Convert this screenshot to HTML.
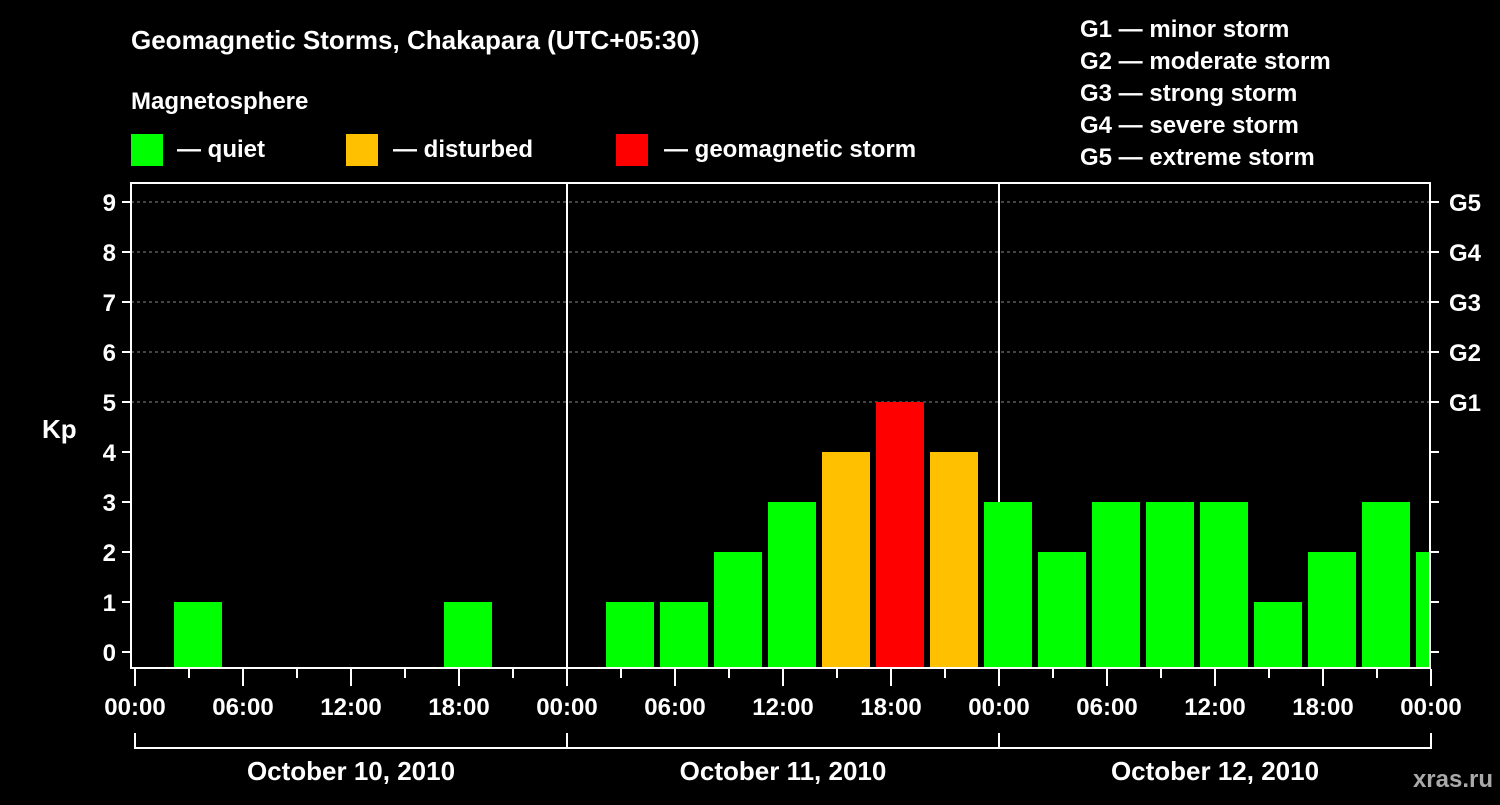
<!DOCTYPE html>
<html><head><meta charset="utf-8"><style>
body{margin:0;background:#000;}
svg text{font-family:"Liberation Sans",Arial,sans-serif;font-weight:bold;fill:#fff;}
</style></head><body>
<svg width="1500" height="800" viewBox="0 0 1500 800">
<rect width="1500" height="800" fill="#000"/>
<text x="131" y="49" font-size="26">Geomagnetic Storms, Chakapara (UTC+05:30)</text>
<text x="131" y="109" font-size="24">Magnetosphere</text>
<rect x="131" y="134" width="32" height="32" fill="#00ff00"/>
<text x="177" y="157" font-size="24">— quiet</text>
<rect x="346" y="134" width="32" height="32" fill="#ffc000"/>
<text x="393" y="157" font-size="24">— disturbed</text>
<rect x="616" y="134" width="32" height="32" fill="#ff0000"/>
<text x="664" y="157" font-size="24">— geomagnetic storm</text>
<g font-size="24">
<text x="1080" y="37">G1 — minor storm</text>
<text x="1080" y="69">G2 — moderate storm</text>
<text x="1080" y="101">G3 — strong storm</text>
<text x="1080" y="133">G4 — severe storm</text>
<text x="1080" y="165">G5 — extreme storm</text>
</g>
<text x="42" y="438" font-size="26">Kp</text>
<g id="grid"></g>
<g id="bars" clip-path="url(#clip)"></g>
<defs><clipPath id="clip"><rect x="131" y="183" width="1299" height="485"/></clipPath></defs>
<g id="axes"></g>
<text x="1493" y="787" font-size="24" text-anchor="end" fill="#bbb" style="fill:#aaa">xras.ru</text>
</svg>
<script>
const kpValues=[0,1,0,0,0,0,1,0,0,1,1,2,3,4,5,4,3,2,3,3,3,1,2,3,2];
const startHour=-0.5;
const dayLabels=["October 10, 2010","October 11, 2010","October 12, 2010"];
const hourLabels=["00:00","06:00","12:00","18:00"];
const gLabels=["G1","G2","G3","G4","G5"];
const NS="http://www.w3.org/2000/svg";
const x0=135,pxH=18,y0=652,pxK=50;
const X=h=>x0+h*pxH, Y=k=>y0-k*pxK;
function mk(t,a,p){const e=document.createElementNS(NS,t);for(const k in a)e.setAttribute(k,a[k]);p.appendChild(e);return e;}
const grid=document.getElementById('grid'),bars=document.getElementById('bars'),axes=document.getElementById('axes');
for(let k=5;k<=9;k++){const l=mk('line',{x1:131,x2:1430,y1:Y(k),y2:Y(k),stroke:'#888','stroke-dasharray':'3,3'},grid);

}
for(let d=1;d<3;d++){const l=mk('line',{x1:X(24*d),x2:X(24*d),y1:183,y2:668,stroke:'#fff','stroke-width':2},grid);

}
kpValues.forEach((v,i)=>{if(v<=0)return;
const c=v>=5?'#ff0000':v>=4?'#ffc000':'#00ff00';
const r=mk('rect',{x:X(startHour+3*i)-6,y:Y(v),width:48,height:Y(0)-Y(v)+16,fill:c},bars);

});
const fr=mk('rect',{x:131,y:183,width:1299,height:485,fill:'none',stroke:'#fff','stroke-width':2},axes);


for(let k=0;k<=9;k++){
mk('line',{x1:122,x2:131,y1:Y(k),y2:Y(k),stroke:'#fff','stroke-width':2},axes);
mk('line',{x1:1430,x2:1439,y1:Y(k),y2:Y(k),stroke:'#fff','stroke-width':2},axes);
const t=mk('text',{x:116,y:Y(k)+9,'font-size':24,'text-anchor':'end'},axes);t.textContent=k;


if(k>=5){const g=mk('text',{x:1449,y:Y(k)+9,'font-size':24},axes);g.textContent=gLabels[k-5];

}}
for(let h=0;h<=72;h+=3){const maj=h%6===0;
mk('line',{x1:X(h),x2:X(h),y1:669,y2:maj?686:678,stroke:'#fff','stroke-width':2},axes);
if(maj){const t=mk('text',{x:X(h),y:715,'font-size':24,'text-anchor':'middle'},axes);t.textContent=hourLabels[(h/6)%4];

}}
mk('line',{x1:X(0),x2:X(72),y1:748,y2:748,stroke:'#fff','stroke-width':2},axes);
for(let d=0;d<=3;d++)mk('line',{x1:X(24*d),x2:X(24*d),y1:733,y2:749,stroke:'#fff','stroke-width':2},axes);
dayLabels.forEach((s,d)=>{const t=mk('text',{x:X(24*d+12),y:780,'font-size':26,'text-anchor':'middle'},axes);t.textContent=s;

});
</script>
</body></html>
